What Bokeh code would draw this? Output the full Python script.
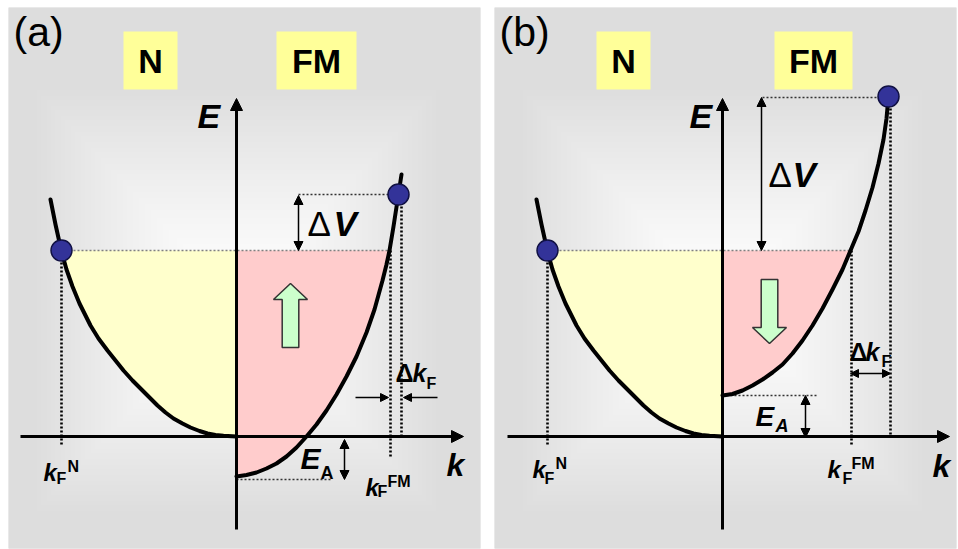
import numpy as np
from bokeh.plotting import figure
from bokeh.models import Range1d, Arrow, NormalHead
from bokeh.layouts import row
from bokeh.core.properties import value
from bokeh.embed import file_html
from bokeh.resources import INLINE

FONT = value("Liberation Sans")

# ---------------- data (k to the right, E upward; origin = axes crossing) ----
# normal-metal band (same in both panels)
N_k = [-186, -181, -175, -170, -164, -157, -146, -138, -129, -121, -113, -104, -96, -88, -79, -71, -63, -54, -46, -37, -29, -21, -13, 0]
N_E = [237, 212, 185, 167, 150, 133, 111, 98, 86, 76, 66, 56, 48, 40, 31, 24, 18, 13, 9, 5.5, 3, 1.5, 0.8, 0]

# ferromagnet band, panel (a)
FMa_k = [0, 10, 20, 30, 40, 50, 60, 70, 80, 90, 100, 110, 120, 130, 138, 146, 150, 153, 157, 161, 165]
FMa_E = [-40, -38.5, -36, -32, -27, -20, -11, 0, 12, 26, 42, 60, 80, 104, 127, 156, 172, 186, 210, 236, 262]

# ferromagnet band, panel (b)
FMb_k = [0, 10, 20, 30, 40, 50, 60, 70, 80, 90, 100, 110, 120, 128, 136, 143, 150, 156, 161, 164, 166]
FMb_E = [41, 42.5, 46, 51, 57, 64, 72, 83, 96, 111, 128, 147, 167, 186, 205, 226, 249, 273, 297, 318, 340]

E_F = 186                     # common Fermi level
kF_N = -175                   # Fermi wave vector of N
kF_FM = {"a": 153, "b": 128}  # Fermi wave vector of FM
dot_k = {"a": 162, "b": 166}  # electron shifted by Delta V
dot_E = {"a": 242, "b": 340}
kshift = {"a": 165, "b": 168}
E_A = {"a": -43, "b": 41}     # band bottom of FM

TOP, BOT = 7, 548             # panel frame (page pixels)
OY = 436                      # page row of the k axis


def bg_image(x0, x1, cx, cy, hw=205, hh=215):
    xs = np.arange(x0, x1, 2) + 1.0
    ys = np.arange(TOP, BOT + 1, 2) + 1.0
    X, Y = np.meshgrid(xs, ys)
    t = np.clip(np.maximum(np.abs(X - cx) / hw, np.abs(Y - cy) / hh), 0, 1)
    v = (255 - 34 * t ** 1.3).astype(np.uint8)
    img = np.empty(X.shape, dtype=np.uint32)
    view = img.view(np.uint8).reshape(X.shape + (4,))
    view[..., 0] = v
    view[..., 1] = v
    view[..., 2] = v
    view[..., 3] = 255
    return img[::-1], len(xs) * 2, len(ys) * 2


def txt(p, x, y, s, size, style="bold", align="left"):
    p.text(x=[x], y=[y], text=[s], text_font=FONT, text_font_size=size,
           text_font_style=style, text_align=align, text_baseline="middle",
           text_color="black")


def arrow(p, x0, y0, x1, y1, both=False, size=9, lw=1.5):
    head = lambda: NormalHead(size=size, fill_color="black", line_color="black", line_width=1)
    p.add_layout(Arrow(x_start=x0, y_start=y0, x_end=x1, y_end=y1,
                       end=head(), start=head() if both else None,
                       line_width=lw, line_color="black"))


def panel(tag, fig_x0, fig_x1, x0, x1, ox, fm_k, fm_E):
    oy = OY
    p = figure(width=fig_x1 - fig_x0, height=549,
               x_range=Range1d(x0 - ox, x1 - ox),
               y_range=Range1d(oy - BOT, oy - TOP), output_backend="svg",
               toolbar_location=None, x_axis_location=None, y_axis_location=None,
               min_border_left=x0 - fig_x0, min_border_right=fig_x1 - x1,
               min_border_top=TOP, min_border_bottom=549 - BOT,
               background_fill_color="#dddddd",
               border_fill_color="white", outline_line_color=None)
    p.xgrid.visible = False
    p.ygrid.visible = False

    img, dw, dh = bg_image(x0, x1, ox, 300)
    p.image_rgba(image=[img], x=x0 - ox, y=oy - (TOP + dh), dw=dw, dh=dh)

    kf = kF_FM[tag]
    # filled states
    yk = [kF_N] + [k for k in N_k if k > kF_N] + [0]
    yE = [E_F] + [e for k, e in zip(N_k, N_E) if k > kF_N] + [E_F]
    p.patch(yk, yE, fill_color="#ffffcc", line_color=None)
    pk = [0] + [k for k in fm_k if k < kf] + [kf]
    pE = [E_F] + [e for k, e in zip(fm_k, fm_E) if k < kf] + [E_F]
    p.patch(pk, pE, fill_color="#ffcccc", line_color=None)

    # dotted guides
    p.line([kF_N, kf], [E_F, E_F], line_color="#808080", line_width=1.3, line_dash="2 2")
    if tag == "a":
        p.line([62, dot_k[tag]], [dot_E[tag], dot_E[tag]], line_color="#333333", line_width=1.3, line_dash="2 2")
        p.line([0, 94], [E_A[tag], E_A[tag]], line_color="#333333", line_width=1.3, line_dash="2 2")
        kfm_bottom = -20
    else:
        p.line([40, dot_k[tag]], [dot_E[tag] - 1, dot_E[tag] - 1], line_color="#333333", line_width=1.3, line_dash="2 2")
        p.line([0, 95], [E_A[tag], E_A[tag]], line_color="#333333", line_width=1.3, line_dash="2 2")
        kfm_bottom = -9
    p.line([kF_N, kF_N], [E_F, -9], line_color="black", line_width=2.6, line_dash="2 2")
    p.line([kf + 1, kf + 1], [E_F, kfm_bottom], line_color="black", line_width=2.6, line_dash="2 2")
    p.line([kshift[tag], kshift[tag]], [dot_E[tag], 0], line_color="black", line_width=2.6, line_dash="2 2")

    # bands
    p.line(N_k, N_E, line_color="black", line_width=4, line_join="round", line_cap="round")
    p.line(fm_k, fm_E, line_color="black", line_width=4, line_join="round", line_cap="round")

    # axes
    arrow(p, 0, -93, 0, 338, size=12, lw=3)
    arrow(p, -216 if tag == "a" else -215, 0, 227, 0, size=12, lw=3)

    # green spin arrows
    if tag == "a":
        gk, tail, head, tip = 54, 89, 137, 153
    else:
        gk, tail, head, tip = 47, 157, 109, 93
    ak = [gk - 8.3, gk + 8.3, gk + 8.3, gk + 17, gk, gk - 17, gk - 8.3]
    aE = [tail, tail, head, head, tip, head, head]
    p.patch(ak, aE, fill_color="#ccffcc", line_color="#333333", line_width=1.5)

    # measurement arrows
    if tag == "a":
        arrow(p, 62, E_F, 62, dot_E[tag] - 1, both=True)
        arrow(p, 119, 39, 152, 39, size=8)
        arrow(p, 201, 39, 167, 39, size=8)
        arrow(p, 108, -3, 108, E_A[tag], both=True)
    else:
        arrow(p, 39, E_F, 39, dot_E[tag] - 1, both=True)
        arrow(p, kf, 63, kshift[tag], 63, both=True, size=8)
        arrow(p, 83, E_A[tag], 83, -1, both=True)

    # electrons at the Fermi level
    p.scatter([kF_N, dot_k[tag]], [E_F, dot_E[tag]], size=21,
              fill_color="#333399", line_color="#111144", line_width=1.5)

    # boxes
    if tag == "a":
        nb, fb = (-113, -59), (40, 120)
    else:
        nb, fb = (-126, -72), (52, 130)
    p.quad(left=[nb[0], fb[0]], right=[nb[1], fb[1]], bottom=[347, 347], top=[405, 405],
           fill_color="#ffff99", line_color=None)
    txt(p, sum(nb) / 2, 376, "N", "34px", "bold", "center")
    txt(p, sum(fb) / 2, 376, "FM", "34px", "bold", "center")

    # labels (y = visual centre of the glyphs)
    txt(p, -223, 405, "(%s)" % tag, "41px", "normal")
    if tag == "a":
        txt(p, -39, 320.5, "E", "34px", "bold italic")
        txt(p, 210, -28.5, "k", "32px", "bold italic")
        txt(p, 71, 213, "\u0394", "35px", "normal")
        txt(p, 97, 213, "V", "35px", "bold italic")
        txt(p, 159, 64, "\u0394", "25px", "bold")
        txt(p, 176, 64, "k", "25px", "bold italic")
        txt(p, 190, 53.5, "F", "16px", "bold")
        txt(p, 64, -21.5, "E", "30px", "bold italic")
        txt(p, 84, -36.5, "A", "18px", "bold")
        txt(p, -193, -35.5, "k", "24px", "bold italic")
        txt(p, -180, -41.5, "F", "16px", "bold")
        txt(p, -169, -29.5, "N", "16px", "bold")
        txt(p, 129, -50.5, "k", "24px", "bold italic")
        txt(p, 141, -55, "F", "16px", "bold")
        txt(p, 151, -45, "FM", "16px", "bold")
    else:
        txt(p, -33, 320.5, "E", "34px", "bold italic")
        txt(p, 210, -29.5, "k", "32px", "bold italic")
        txt(p, 46, 262.5, "\u0394", "35px", "normal")
        txt(p, 70, 262.5, "V", "35px", "bold italic")
        txt(p, 127, 84.5, "\u0394", "25px", "bold")
        txt(p, 143, 84.5, "k", "25px", "bold italic")
        txt(p, 159, 75, "F", "16px", "bold")
        txt(p, 33, 20, "E", "28px", "bold italic")
        txt(p, 53, 10.5, "A", "18px", "bold italic")
        txt(p, -190, -32.5, "k", "24px", "bold italic")
        txt(p, -178, -41.5, "F", "16px", "bold")
        txt(p, -167, -26.5, "N", "16px", "bold")
        txt(p, 105, -32.5, "k", "24px", "bold italic")
        txt(p, 120, -41.5, "F", "16px", "bold")
        txt(p, 129, -26.5, "FM", "16px", "bold")
    return p


pa = panel("a", 0, 487, 8, 480, 236, FMa_k, FMa_E)
pb = panel("b", 487, 958, 494, 956, 722, FMb_k, FMb_E)
layout = row(pa, pb)
open("out.html", "w").write(file_html(layout, INLINE))
